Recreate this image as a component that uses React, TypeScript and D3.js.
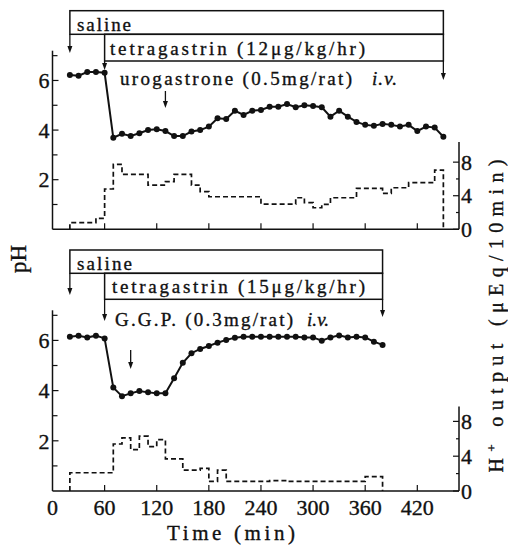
import React from "react";
import * as d3 from "d3";

const width = 508;
const height = 546;

const timeTicks = [0, 60, 120, 180, 240, 300, 360, 420];
const phTicks = [2, 4, 6];
const phMinorTicks = [1, 3, 5, 7];
const hTicks = [0, 4, 8];
const hMinorTicks = [2, 6];

// upper record: tetragastrin 12 ug/kg/hr, urogastrone at 130 min
const topTime = [20, 30, 40, 50, 60, 70, 80, 90, 100, 110, 120, 130, 140, 150, 160, 170, 180, 190, 200, 210, 220, 230,
  240, 250, 260, 270, 280, 290, 300, 310, 320, 330, 340, 350, 360, 370, 380, 390, 400, 410, 420, 430, 440, 450];
const topPH = [6.22, 6.19, 6.34, 6.34, 6.31, 3.69, 3.85, 3.76, 3.87, 4.0, 4.03, 3.96, 3.76, 3.76, 3.94, 4.0, 4.14, 4.48, 4.45, 4.78, 4.61, 4.78,
  4.81, 4.94, 4.94, 5.05, 4.92, 5.0, 4.97, 4.92, 4.54, 4.78, 4.54, 4.33, 4.21, 4.17, 4.25, 4.21, 4.14, 4.21, 3.96, 4.14, 4.1, 3.73];
const topStepStart = [20, 50, 60, 70, 80, 110, 130, 140, 160, 170, 180, 240, 280, 290, 300, 310, 320, 350, 380, 390, 410, 440];
const topStepValue = [0.79, 1.31, 4.8, 7.74, 6.55, 5.27, 5.67, 6.55, 5.27, 4.48, 3.88, 3.0, 3.76, 3.17, 2.57, 2.98, 3.76, 4.88, 4.29, 4.95, 5.55, 7.06];
const topStepEnd = 450;
const topSaline = [20, 450];
const topTetra = [60, 450];
const topDrugAt = 130;

// lower record: tetragastrin 15 ug/kg/hr, G.G.P. at 90 min
const bottomTime = [20, 30, 40, 50, 60, 70, 80, 90, 100, 110, 120, 130, 140, 150, 160, 170, 180, 190, 200, 210, 220, 230,
  240, 250, 260, 270, 280, 290, 300, 310, 320, 330, 340, 350, 360, 370, 380];
const bottomPH = [6.15, 6.19, 6.12, 6.19, 6.08, 4.12, 3.78, 3.89, 3.98, 3.93, 3.89, 3.89, 4.49, 5.11, 5.49, 5.66, 5.78, 5.91, 6.02, 6.11, 6.15, 6.15,
  6.15, 6.15, 6.15, 6.15, 6.15, 6.12, 6.12, 5.99, 6.12, 6.2, 6.12, 6.15, 6.12, 5.95, 5.82];
const bottomStepStart = [20, 70, 80, 90, 100, 110, 120, 130, 150, 170, 180, 190, 200, 250, 270, 360];
const bottomStepValue = [2.1, 5.4, 6.1, 4.75, 6.3, 5.1, 5.9, 3.7, 2.4, 2.6, 1.1, 2.4, 1.1, 1.2, 1.1, 1.65];
const bottomStepEnd = 380;
const bottomSaline = [20, 380];
const bottomTetra = [60, 380];
const bottomDrugAt = 90;

const font = "Liberation Serif, DejaVu Serif, Times New Roman, serif";
const ink = "#111";
// scanned print looks heavier than a plain regular face
const heavy = { fontFamily: font, stroke: ink, strokeWidth: 0.35 };

const x = d3.scaleLinear().domain([0, 468]).range([52.5, 459]);

const Arrow = ({ xp, y1, y2 }) => (
  <g>
    <line x1={xp} x2={xp} y1={y1} y2={y2 - 5} stroke={ink} strokeWidth={1.3} />
    <path d={`M${xp - 2.5},${y2 - 7}L${xp + 2.5},${y2 - 7}L${xp},${y2}Z`} fill={ink} stroke="none" />
  </g>
);

function Panel({ time, ph, stepStart, stepValue, stepEnd, yPH, yH, showTimeLabels }) {
  const [y0] = yPH.range();
  const pts = time.map((t, i) => [t, ph[i]]);
  const phLine = d3.line().x(d => x(d[0])).y(d => yPH(d[1]));
  const stepPts = [[stepStart[0], 0], ...stepStart.map((s, i) => [s, stepValue[i]]), [stepEnd, 0]];
  const stepLine = d3.line().curve(d3.curveStepAfter).x(d => x(d[0])).y(d => yH(d[1]));
  const xl = x.range()[0];
  const xr = x.range()[1];
  return (
    <g>
      {/* axes */}
      <line x1={xl} x2={xl} y1={y0} y2={yPH.range()[1]} stroke={ink} strokeWidth={1.5} />
      <line x1={xr} x2={xr} y1={y0} y2={yH.range()[1]} stroke={ink} strokeWidth={1.5} />
      <line x1={xl} x2={xr} y1={y0} y2={y0} stroke={ink} strokeWidth={1.5} />
      {timeTicks.filter(t => t > 0).map(t => (
        <line key={t} x1={x(t)} x2={x(t)} y1={y0} y2={y0 - 6} stroke={ink} strokeWidth={1.2} />
      ))}
      {phTicks.map(v => (
        <g key={v}>
          <line x1={xl} x2={xl + 6} y1={yPH(v)} y2={yPH(v)} stroke={ink} strokeWidth={1.2} />
          <text x={xl - 3} y={yPH(v)} dy="0.35em" textAnchor="end" fontSize={22} style={heavy} fill={ink}>{v}</text>
        </g>
      ))}
      {phMinorTicks.map(v => (
        <line key={v} x1={xl} x2={xl + 5} y1={yPH(v)} y2={yPH(v)} stroke={ink} strokeWidth={1.2} />
      ))}
      {hTicks.map(v => (
        <g key={v}>
          <line x1={xr} x2={xr - 6} y1={yH(v)} y2={yH(v)} stroke={ink} strokeWidth={1.2} />
          <text x={xr + 2} y={yH(v)} dy="0.35em" fontSize={22} style={heavy} fill={ink}>{v}</text>
        </g>
      ))}
      {hMinorTicks.map(v => (
        <line key={v} x1={xr} x2={xr - 3} y1={yH(v)} y2={yH(v)} stroke={ink} strokeWidth={1.2} />
      ))}
      {showTimeLabels && timeTicks.map(t => (
        <text key={t} x={x(t)} y={y0 + 24} textAnchor="middle" fontSize={22} style={heavy} fill={ink}>{t}</text>
      ))}
      {/* H+ output */}
      <path d={stepLine(stepPts)} fill="none" stroke={ink} strokeWidth={1.7} strokeDasharray="5,3" />
      {/* pH */}
      <path d={phLine(pts)} fill="none" stroke={ink} strokeWidth={2} />
      {pts.map((d, i) => (
        <circle key={i} cx={x(d[0])} cy={yPH(d[1])} r={3} fill={ink} />
      ))}
    </g>
  );
}

function Boxes({ saline, tetra, yTop, yMid, yBot, salineTip, tetraTip, rightTip }) {
  return (
    <g fill="none" stroke={ink} strokeWidth={1.5}>
      <rect x={x(saline[0])} y={yTop} width={x(saline[1]) - x(saline[0])} height={yMid - yTop} />
      <rect x={x(tetra[0])} y={yMid} width={x(tetra[1]) - x(tetra[0])} height={yBot - yMid} />
      <Arrow xp={x(saline[0])} y1={yMid} y2={salineTip} />
      <Arrow xp={x(tetra[0])} y1={yBot} y2={tetraTip} />
      <Arrow xp={x(saline[1])} y1={yBot} y2={rightTip} />
    </g>
  );
}

export default function App() {
  const topPHScale = d3.scaleLinear().domain([0, 7.2]).range([229.3, 50.7]);
  const topHScale = d3.scaleLinear().domain([0, 10.4]).range([229.3, 142]);
  const botPHScale = d3.scaleLinear().domain([0, 7.2]).range([491, 310.3]);
  const botHScale = d3.scaleLinear().domain([0, 9.7]).range([491, 406.6]);

  const txt = { fill: ink, fontSize: 19, style: heavy };

  return (
    <svg width={width} height={height} style={{ position: "absolute", left: 0, top: 0, background: "#fff" }}>
      <rect width={width} height={height} fill="#fff" />
      <Panel time={topTime} ph={topPH} stepStart={topStepStart} stepValue={topStepValue} stepEnd={topStepEnd}
        yPH={topPHScale} yH={topHScale} showTimeLabels={false} />
      <Panel time={bottomTime} ph={bottomPH} stepStart={bottomStepStart} stepValue={bottomStepValue} stepEnd={bottomStepEnd}
        yPH={botPHScale} yH={botHScale} showTimeLabels={true} />

      {/* upper annotations */}
      <Boxes saline={topSaline} tetra={topTetra} yTop={10.7} yMid={34.3} yBot={61} salineTip={53} tetraTip={70} rightTip={80} />
      <text x={77} y={31} textLength={54} {...txt}>saline</text>
      <text x={110} y={55} textLength={255} {...txt}>tetragastrin (12μg/kg/hr)</text>
      <text x={120} y={85} textLength={232} {...txt}>urogastrone (0.5mg/rat)</text>
      <text x={372} y={85} textLength={25} {...txt} fontStyle="italic">i.v.</text>
      <Arrow xp={x(topDrugAt)} y1={91} y2={108} />

      {/* lower annotations */}
      <Boxes saline={bottomSaline} tetra={bottomTetra} yTop={250} yMid={273.3} yBot={299.3} salineTip={295} tetraTip={321} rightTip={317} />
      <text x={77} y={270} textLength={55} {...txt}>saline</text>
      <text x={112} y={293} textLength={253} {...txt}>tetragastrin (15μg/kg/hr)</text>
      <text x={115} y={326} textLength={178} {...txt}>G.G.P. (0.3mg/rat)</text>
      <text x={307} y={326} textLength={22} {...txt} fontStyle="italic">i.v.</text>
      <Arrow xp={x(bottomDrugAt)} y1={350} y2={369} />

      {/* axis titles */}
      <text x={231} y={540} textAnchor="middle" textLength={128} fontSize={21} style={heavy} fill={ink}>Time (min)</text>
      <text transform="translate(26,259) rotate(-90)" textAnchor="middle" fontSize={23} style={heavy} fill={ink}>pH</text>
      <text transform="translate(503,316) rotate(-90)" textAnchor="middle" textLength={313} fontSize={20} style={heavy} fill={ink}>
        H<tspan dy={-7} fontSize={13}>+</tspan><tspan dy={7}> output (μEq/10min)</tspan>
      </text>
    </svg>
  );
}
